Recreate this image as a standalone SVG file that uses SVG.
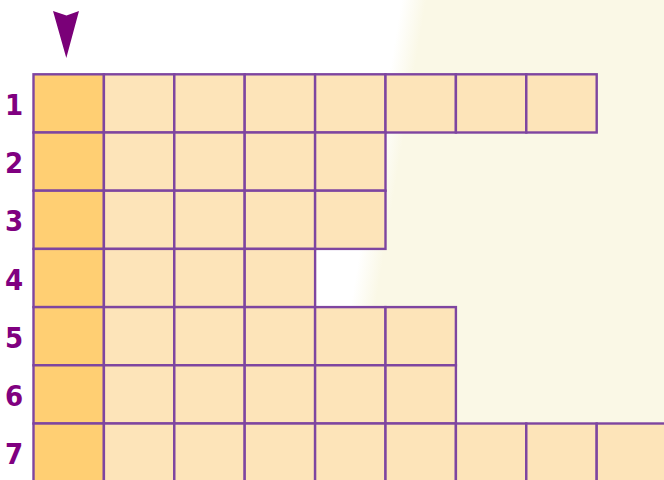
<svg xmlns="http://www.w3.org/2000/svg" width="664" height="480" viewBox="0 0 664 480">
<defs>
<linearGradient id="bg" gradientUnits="userSpaceOnUse" x1="362" y1="238" x2="386" y2="242">
<stop offset="0" stop-color="#ffffff"/>
<stop offset="1" stop-color="#faf8e6"/>
</linearGradient>
<style>
.c{fill:#fde4b9;stroke:#7e45a0;stroke-width:2.4}
.f{fill:#ffcf73;stroke:#7e45a0;stroke-width:2.4}
.n{font-family:"DejaVu Sans Condensed","DejaVu Sans",sans-serif;font-weight:bold;font-size:29px;fill:#800080;text-anchor:middle}
</style>
</defs>
<rect x="0" y="0" width="664" height="480" fill="url(#bg)"/>
<g id="arrow"><path d="M53,11 L66.5,15.5 L79,11 L66.3,58 Z" fill="#7a0078"/></g>
<g id="row1">
<rect class="f" x="33.5" y="74.3" width="70.4" height="58.2"/>
<rect class="c" x="103.9" y="74.3" width="70.4" height="58.2"/>
<rect class="c" x="174.3" y="74.3" width="70.4" height="58.2"/>
<rect class="c" x="244.7" y="74.3" width="70.4" height="58.2"/>
<rect class="c" x="315.1" y="74.3" width="70.4" height="58.2"/>
<rect class="c" x="385.5" y="74.3" width="70.4" height="58.2"/>
<rect class="c" x="455.9" y="74.3" width="70.4" height="58.2"/>
<rect class="c" x="526.3" y="74.3" width="70.4" height="58.2"/>
</g>
<g id="row2">
<rect class="f" x="33.5" y="132.5" width="70.4" height="58.2"/>
<rect class="c" x="103.9" y="132.5" width="70.4" height="58.2"/>
<rect class="c" x="174.3" y="132.5" width="70.4" height="58.2"/>
<rect class="c" x="244.7" y="132.5" width="70.4" height="58.2"/>
<rect class="c" x="315.1" y="132.5" width="70.4" height="58.2"/>
</g>
<g id="row3">
<rect class="f" x="33.5" y="190.7" width="70.4" height="58.2"/>
<rect class="c" x="103.9" y="190.7" width="70.4" height="58.2"/>
<rect class="c" x="174.3" y="190.7" width="70.4" height="58.2"/>
<rect class="c" x="244.7" y="190.7" width="70.4" height="58.2"/>
<rect class="c" x="315.1" y="190.7" width="70.4" height="58.2"/>
</g>
<g id="row4">
<rect class="f" x="33.5" y="248.9" width="70.4" height="58.2"/>
<rect class="c" x="103.9" y="248.9" width="70.4" height="58.2"/>
<rect class="c" x="174.3" y="248.9" width="70.4" height="58.2"/>
<rect class="c" x="244.7" y="248.9" width="70.4" height="58.2"/>
</g>
<g id="row5">
<rect class="f" x="33.5" y="307.1" width="70.4" height="58.2"/>
<rect class="c" x="103.9" y="307.1" width="70.4" height="58.2"/>
<rect class="c" x="174.3" y="307.1" width="70.4" height="58.2"/>
<rect class="c" x="244.7" y="307.1" width="70.4" height="58.2"/>
<rect class="c" x="315.1" y="307.1" width="70.4" height="58.2"/>
<rect class="c" x="385.5" y="307.1" width="70.4" height="58.2"/>
</g>
<g id="row6">
<rect class="f" x="33.5" y="365.3" width="70.4" height="58.2"/>
<rect class="c" x="103.9" y="365.3" width="70.4" height="58.2"/>
<rect class="c" x="174.3" y="365.3" width="70.4" height="58.2"/>
<rect class="c" x="244.7" y="365.3" width="70.4" height="58.2"/>
<rect class="c" x="315.1" y="365.3" width="70.4" height="58.2"/>
<rect class="c" x="385.5" y="365.3" width="70.4" height="58.2"/>
</g>
<g id="row7">
<rect class="f" x="33.5" y="423.5" width="70.4" height="58.2"/>
<rect class="c" x="103.9" y="423.5" width="70.4" height="58.2"/>
<rect class="c" x="174.3" y="423.5" width="70.4" height="58.2"/>
<rect class="c" x="244.7" y="423.5" width="70.4" height="58.2"/>
<rect class="c" x="315.1" y="423.5" width="70.4" height="58.2"/>
<rect class="c" x="385.5" y="423.5" width="70.4" height="58.2"/>
<rect class="c" x="455.9" y="423.5" width="70.4" height="58.2"/>
<rect class="c" x="526.3" y="423.5" width="70.4" height="58.2"/>
<rect class="c" x="596.7" y="423.5" width="70.4" height="58.2"/>
</g>
<g id="labels">
<text class="n" x="14" y="115">1</text>
<text class="n" x="14" y="173">2</text>
<text class="n" x="14" y="231">3</text>
<text class="n" x="14" y="289.5">4</text>
<text class="n" x="14" y="347.7">5</text>
<text class="n" x="14" y="406">6</text>
<text class="n" x="14" y="464">7</text>
</g>
</svg>
